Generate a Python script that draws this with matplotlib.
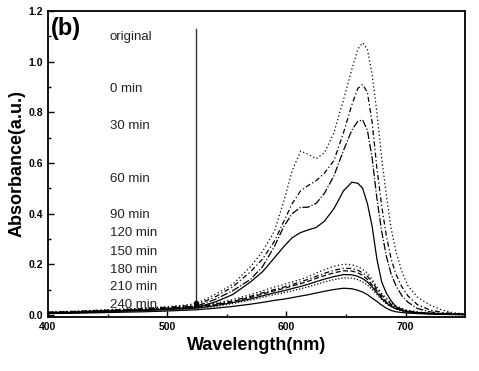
import matplotlib
matplotlib.use("Agg")
import matplotlib.pyplot as plt
import numpy as np

plt.rcParams["font.family"] = ["Liberation Sans", "DejaVu Sans"]

wavelength = [400, 420, 440, 460, 480, 500, 515, 525, 540, 555, 570, 580, 590, 598, 605, 612, 618,
              625, 632, 640, 648, 655, 660, 664, 668, 672, 676, 680, 684, 688, 692, 697, 702, 710,
              720, 730, 740, 750]

a_original = [0.012, 0.014, 0.018, 0.022, 0.026, 0.032, 0.038, 0.045, 0.08, 0.12, 0.19, 0.25, 0.33,
              0.45, 0.57, 0.647, 0.635, 0.617, 0.64, 0.72, 0.85, 0.97, 1.05, 1.075, 1.05, 0.95,
              0.80, 0.62, 0.47, 0.34, 0.25, 0.17, 0.115, 0.07, 0.04, 0.02, 0.008, 0.004]
a_0 = [0.01, 0.013, 0.017, 0.02, 0.024, 0.03, 0.035, 0.04, 0.07, 0.11, 0.17, 0.22, 0.29, 0.37,
       0.44, 0.49, 0.51, 0.53, 0.56, 0.61, 0.72, 0.83, 0.895, 0.91, 0.88, 0.76, 0.58, 0.43, 0.31,
       0.22, 0.16, 0.11, 0.075, 0.04, 0.02, 0.01, 0.005, 0.003]
a_30 = [0.01, 0.012, 0.015, 0.019, 0.022, 0.027, 0.031, 0.035, 0.06, 0.095, 0.14, 0.19, 0.27, 0.35,
        0.40, 0.425, 0.425, 0.44, 0.48, 0.55, 0.65, 0.73, 0.765, 0.77, 0.73, 0.62, 0.46, 0.33,
        0.23, 0.16, 0.115, 0.075, 0.05, 0.025, 0.012, 0.006, 0.003, 0.002]
a_60 = [0.008, 0.01, 0.013, 0.016, 0.019, 0.023, 0.027, 0.03, 0.05, 0.08, 0.13, 0.17, 0.225, 0.27,
        0.305, 0.325, 0.335, 0.345, 0.37, 0.42, 0.49, 0.524, 0.52, 0.50, 0.44, 0.35, 0.22, 0.13,
        0.085, 0.055, 0.032, 0.02, 0.013, 0.008, 0.005, 0.003, 0.002, 0.001]
a_90 = [0.008, 0.011, 0.014, 0.018, 0.022, 0.027, 0.031, 0.035, 0.045, 0.06, 0.08, 0.095, 0.11,
        0.12, 0.13, 0.14, 0.15, 0.165, 0.178, 0.192, 0.2, 0.198, 0.19, 0.18, 0.165, 0.14, 0.11,
        0.085, 0.065, 0.048, 0.035, 0.025, 0.018, 0.012, 0.007, 0.004, 0.002, 0.001]
a_120 = [0.008, 0.01, 0.013, 0.017, 0.021, 0.025, 0.029, 0.032, 0.042, 0.055, 0.073, 0.087, 0.1,
         0.11, 0.12, 0.13, 0.14, 0.152, 0.164, 0.176, 0.184, 0.183, 0.176, 0.166, 0.152, 0.13,
         0.102, 0.078, 0.058, 0.042, 0.03, 0.021, 0.015, 0.01, 0.006, 0.003, 0.002, 0.001]
a_150 = [0.007, 0.009, 0.012, 0.015, 0.019, 0.023, 0.027, 0.03, 0.039, 0.052, 0.069, 0.082, 0.095,
         0.104, 0.114, 0.123, 0.132, 0.144, 0.155, 0.166, 0.174, 0.173, 0.166, 0.156, 0.14, 0.118,
         0.095, 0.07, 0.05, 0.036, 0.026, 0.018, 0.013, 0.009, 0.005, 0.003, 0.002, 0.001]
a_180 = [0.007, 0.009, 0.011, 0.014, 0.017, 0.021, 0.024, 0.027, 0.036, 0.048, 0.063, 0.075, 0.087,
         0.095, 0.104, 0.112, 0.12, 0.131, 0.141, 0.151, 0.159, 0.158, 0.152, 0.143, 0.13, 0.11,
         0.087, 0.065, 0.047, 0.034, 0.024, 0.017, 0.012, 0.008, 0.005, 0.003, 0.002, 0.001]
a_210 = [0.006, 0.008, 0.01, 0.013, 0.016, 0.019, 0.022, 0.025, 0.033, 0.044, 0.058, 0.069, 0.08,
         0.087, 0.095, 0.103, 0.11, 0.12, 0.13, 0.139, 0.146, 0.145, 0.139, 0.13, 0.118, 0.1,
         0.08, 0.06, 0.043, 0.031, 0.022, 0.015, 0.011, 0.007, 0.004, 0.002, 0.001, 0.001]
a_240 = [0.005, 0.006, 0.008, 0.01, 0.012, 0.015, 0.018, 0.02, 0.026, 0.033, 0.042, 0.049, 0.057,
         0.062, 0.068, 0.074, 0.079, 0.086, 0.093, 0.1, 0.105, 0.103, 0.097, 0.09, 0.08, 0.066,
         0.053, 0.038, 0.026, 0.017, 0.012, 0.009, 0.007, 0.005, 0.003, 0.002, 0.001, 0.001]

labels = ["original", "0 min", "30 min", "60 min", "90 min", "120 min", "150 min",
          "180 min", "210 min", "240 min"]
label_y = [1.097, 0.891, 0.745, 0.535, 0.396, 0.325, 0.25, 0.178, 0.111, 0.04]

series = [a_original, a_0, a_30, a_60, a_90, a_120, a_150, a_180, a_210, a_240]
styles = [(0, (1, 2)), (0, (4, 2, 1, 2)), (0, (6, 1.5, 1, 1.5)), "-", (0, (1, 2)),
          (0, (4, 2, 1, 2)), (0, (4, 2)), "-", (0, (1, 1.5)), "-"]

fig = plt.figure(figsize=(4.79, 3.71), dpi=100)
ax = fig.add_axes([0.100, 0.146, 0.871, 0.824])

for y, ls in zip(series, styles):
    ax.plot(wavelength, y, color="black", linestyle=ls, linewidth=0.9)

# irradiation marker line
ax.plot([524, 524], [0.04, 1.13], color="#333333", linewidth=1.0)
ax.plot([524], [0.045], "o", color="black", markersize=3)

for lab, yy in zip(labels, label_y):
    ax.text(452, yy, lab, fontsize=9.5, va="center", ha="left", color="#222222")

ax.text(402.5, 1.13, "(b)", fontsize=17, fontweight="bold", va="center", ha="left")

ax.set_xlim(400, 750)
ax.set_ylim(-0.008, 1.2)
ax.set_xticks([400, 500, 600, 700])
ax.set_xticks([450, 550, 650], minor=True)
ax.set_yticks([0.0, 0.2, 0.4, 0.6, 0.8, 1.0, 1.2])
ax.set_yticks(np.arange(0.1, 1.2, 0.2), minor=True)
ax.tick_params(which="both", direction="in", width=1.0, labelsize=7.5)
ax.tick_params(which="major", length=4)
ax.tick_params(which="minor", length=2.5)
for t in ax.get_xticklabels() + ax.get_yticklabels():
    t.set_fontweight("bold")
for s in ax.spines.values():
    s.set_linewidth(1.3)

ax.set_xlabel("Wavelength(nm)", fontsize=13, fontweight="bold", labelpad=4)
ax.set_ylabel("Absorbance(a.u.)", fontsize=13, fontweight="bold", labelpad=2)

fig.savefig("out.png", dpi=100)
